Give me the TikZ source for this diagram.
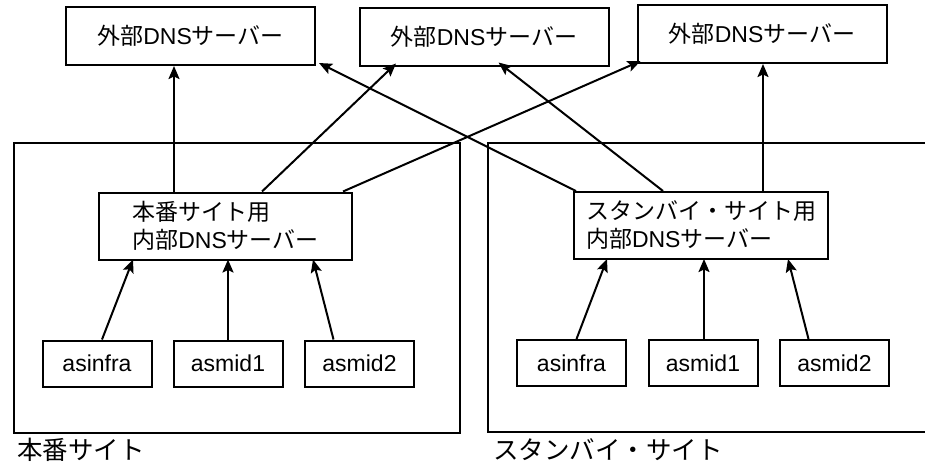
\documentclass[tikz,border=0pt]{standalone}
\usepackage{fontspec}
\setmainfont{Liberation Sans}
\newfontfamily\jp{Noto Sans CJK JP}
\usetikzlibrary{arrows.meta,positioning}
\begin{document}
\begin{tikzpicture}[x=1pt,y=-1pt,
  line width=2pt,
  every node/.style={font=\fontsize{23pt}{28pt}\selectfont},
  extbox/.style={draw,minimum width=249pt,minimum height=58pt,inner sep=0pt},
  intbox/.style={draw,minimum width=253pt,minimum height=67pt,inner sep=0pt,align=left},
  leafbox/.style={draw,minimum width=109pt,minimum height=46pt,inner sep=0pt},
  sitelabel/.style={anchor=west,inner sep=0pt,font=\fontsize{25.5pt}{30pt}\selectfont},
  arr/.style={-{Stealth[length=13pt,width=11pt,inset=2.5pt]}}
]
\useasboundingbox (0,0) rectangle (925,463);
% site frames
\node[draw,minimum width=446pt,minimum height=290pt,inner sep=0pt] (site1) at (237,288) {};
\draw (926,143) -- (488,143) -- (488,432) -- (926,432);
\node[sitelabel] (lab1) at (16,450) {{\jp 本番サイト}};
\node[sitelabel] (lab2) at (492,450) {{\jp スタンバイ・サイト}};
% external DNS
\node[extbox] (ext1) at (190.5,36) {{\jp 外部}DNS{\jp サーバー}};
\node[extbox] (ext2) at (484,36.5) {{\jp 外部}DNS{\jp サーバー}};
\node[extbox] (ext3) at (762,34) {{\jp 外部}DNS{\jp サーバー}};
% internal DNS
\node[intbox] (int1) at (225.5,226) {{\jp 本番サイト用}\\{\jp 内部}DNS{\jp サーバー}};
\node[intbox,minimum width=254pt] (int2) at (701,225.5) {{\jp スタンバイ・サイト用}\\{\jp 内部}DNS{\jp サーバー}};
% leaves
\node[leafbox] (a1) at (97,363.5) {asinfra};
\node[leafbox] (m11) at (228,363.5) {asmid1};
\node[leafbox] (m21) at (359.5,363.5) {asmid2};
\node[leafbox] (a2) at (571.5,363) {asinfra};
\node[leafbox] (m12) at (703,363) {asmid1};
\node[leafbox] (m22) at (834.5,363) {asmid2};
% arrows to external
\draw[arr] ([xshift=-51.5]int1.north) -- ([xshift=-16.5]ext1.south);
\draw[arr] ([xshift=36.5]int1.north) -- ([xshift=-88,yshift=3]ext2.south);
\draw[arr] ([xshift=-10]int1.north east) -- ([xshift=4,yshift=3]ext3.south west);
\draw[arr] ([xshift=3]int2.north west) -- ([xshift=3,yshift=3]ext1.south east);
\draw[arr] ([xshift=-38]int2.north) -- ([xshift=-111,yshift=4]ext2.south east);
\draw[arr] ([xshift=62]int2.north) -- ([xshift=1]ext3.south);
% arrows from leaves
\draw[arr] ([xshift=5]a1.north) -- ([xshift=-92.5,yshift=1]int1.south);
\draw[arr] (m11.north) -- ([xshift=2.5,yshift=1]int1.south);
\draw[arr] ([xshift=-26]m21.north) -- ([xshift=87.5,yshift=1]int1.south);
\draw[arr] ([xshift=5]a2.north) -- ([xshift=-94,yshift=1]int2.south);
\draw[arr] ([xshift=1]m12.north) -- ([xshift=3,yshift=1]int2.south);
\draw[arr] ([xshift=-26]m22.north) -- ([xshift=87,yshift=1]int2.south);
\end{tikzpicture}
\end{document}
